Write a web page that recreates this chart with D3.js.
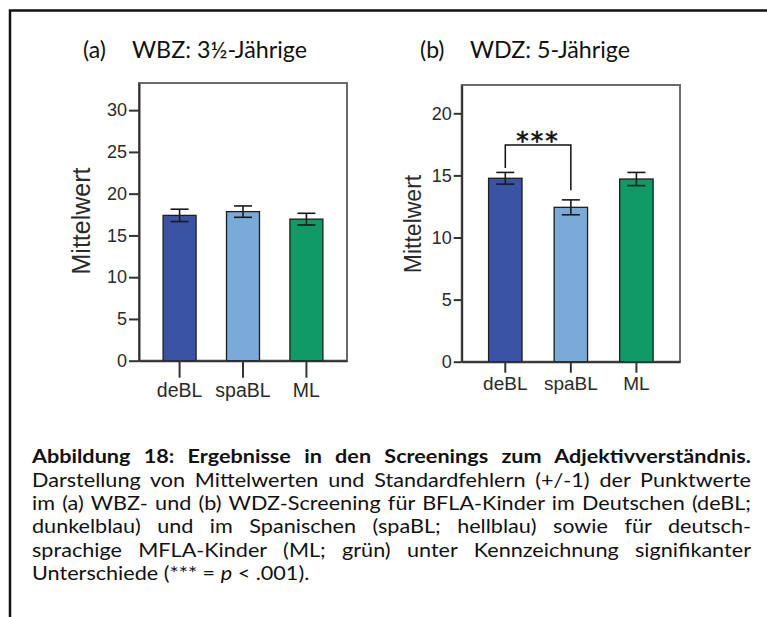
<!DOCTYPE html>
<html>
<head>
<meta charset="utf-8">
<script src="https://cdn.jsdelivr.net/npm/d3@7"></script>
<style>
  body { margin: 0; background: #fff; }
  svg { display: block; }
</style>
</head>
<body>
<div id="chart"></div>
<script>
// values
var groups = ["deBL", "spaBL", "ML"];
var meansA = [17.4, 17.85, 16.95];
var errA = [0.74, 0.68, 0.7];
var meansB = [14.77, 12.43, 14.71];
var errB = [0.47, 0.6, 0.53];
var ticksA = [0, 5, 10, 15, 20, 25, 30];
var ticksB = [0, 5, 10, 15, 20];
var sigPair = ["deBL", "spaBL"];
var sigLevels = [17.45, 15.6, 13.8];   // bracket top, left leg end, right leg end
var sigLabel = "***";

var captionBold = "Abbildung 18: Ergebnisse in den Screenings zum Adjektivverständnis.";
var captionLines = [
  "Darstellung von Mittelwerten und Standardfehlern (+/-1) der Punktwerte",
  "im (a) WBZ- und (b) WDZ-Screening für BFLA-Kinder im Deutschen (deBL;",
  "dunkelblau) und im Spanischen (spaBL; hellblau) sowie für deutsch-",
  "sprachige MFLA-Kinder (ML; grün) unter Kennzeichnung signifikanter"
];

var colors = d3.scaleOrdinal().domain(groups).range(["#3b53a5", "#7aaad8", "#0f9a66"]);

var svg = d3.select("#chart")
    .append("svg")
    .attr("width", 767)
    .attr("height", 617);

svg.append("rect")
    .attr("width", 767).attr("height", 617)
    .attr("fill", "#fff");

// outer frame of the figure
svg.append("path")
    .attr("d", "M10,625 L10,10.5 L780,10.5")
    .attr("fill", "none")
    .attr("stroke", "#111")
    .attr("stroke-width", 2.5);

var titleFont = "Lato, 'Open Sans', sans-serif";
var axisFont = "'Liberation Sans', Arial, sans-serif";

function title(x1, x2, x3, a, b) {
    svg.append("text")
        .attr("x", x1).attr("y", 58)
        .attr("font-family", titleFont)
        .attr("font-size", 23)
        .attr("fill", "#111")
        .text(a);
    svg.append("text")
        .attr("x", x2).attr("y", 58)
        .attr("font-family", titleFont)
        .attr("font-size", 23)
        .attr("fill", "#111")
        .attr("textLength", x3 - x2)
        .attr("lengthAdjust", "spacingAndGlyphs")
        .text(b);
}
title(83, 132, 307, "(a)", "WBZ: 3½-Jährige");
title(420, 470, 630, "(b)", "WDZ: 5-Jährige");

function panel(p) {
    var g = svg.append("g");

    var x = d3.scaleBand()
        .domain(groups)
        .range([p.left, p.right])
        .paddingInner(p.padIn)
        .paddingOuter(p.padOut);

    var y = d3.scaleLinear()
        .domain([0, p.ymax])
        .range([p.bottom, p.top]);

    // grey box round the plot
    g.append("rect")
        .attr("x", p.left).attr("y", p.top)
        .attr("width", p.right - p.left)
        .attr("height", p.bottom - p.top)
        .attr("fill", "none")
        .attr("stroke", "#6a6a6a")
        .attr("stroke-width", 2);

    var rows = groups.map(function(d, i) {
        return {name: d, mean: p.means[i], err: p.errs[i]};
    });

    g.selectAll("rect.bar")
        .data(rows)
        .enter()
        .append("rect")
        .attr("class", "bar")
        .attr("x", d => x(d.name))
        .attr("y", d => y(d.mean))
        .attr("width", x.bandwidth())
        .attr("height", d => y(0) - y(d.mean))
        .attr("fill", d => colors(d.name))
        .attr("stroke", "#1e1e1e")
        .attr("stroke-width", 1.3);

    var cx = d => x(d.name) + x.bandwidth() / 2;
    var cap = 9;
    var eb = g.selectAll("g.err")
        .data(rows)
        .enter()
        .append("g")
        .attr("class", "err")
        .attr("stroke", "#1a1a1a")
        .attr("stroke-width", 1.6);
    eb.append("line")
        .attr("x1", cx).attr("x2", cx)
        .attr("y1", d => y(d.mean - d.err))
        .attr("y2", d => y(d.mean + d.err));
    eb.append("line")
        .attr("x1", d => cx(d) - cap).attr("x2", d => cx(d) + cap)
        .attr("y1", d => y(d.mean + d.err))
        .attr("y2", d => y(d.mean + d.err));
    eb.append("line")
        .attr("x1", d => cx(d) - cap).attr("x2", d => cx(d) + cap)
        .attr("y1", d => y(d.mean - d.err))
        .attr("y2", d => y(d.mean - d.err));

    var ya = g.append("g")
        .attr("transform", `translate(${p.left},0)`)
        .call(d3.axisLeft(y).tickValues(p.ticks).tickSize(p.ytick).tickSizeOuter(0).tickPadding(2));
    var xa = g.append("g")
        .attr("transform", `translate(0,${p.bottom})`)
        .call(d3.axisBottom(x).tickSize(p.xtick).tickSizeOuter(0).tickPadding(p.xpad));

    [ya, xa].forEach(function(a) {
        a.selectAll("path, line").attr("stroke", "#333").attr("stroke-width", 2);
        a.selectAll("text")
            .attr("font-family", axisFont)
            .attr("fill", "#2a2a2a");
    });
    ya.selectAll("text").attr("font-size", p.yfont);
    xa.selectAll("text").attr("font-size", p.xfont);

    g.append("text")
        .attr("transform", "rotate(-90)")
        .attr("text-anchor", "middle")
        .attr("x", -p.labelY)
        .attr("y", p.labelX)
        .attr("font-family", axisFont)
        .attr("font-size", p.labelFont)
        .attr("fill", "#2a2a2a")
        .text("Mittelwert");

    return {x: x, y: y, g: g};
}

panel({
    left: 139, right: 347, top: 83, bottom: 360.7, ymax: 33.25,
    padIn: 0.48, padOut: 0.38,
    means: meansA, errs: errA, ticks: ticksA,
    ytick: 10, xtick: 17, xpad: 5,
    yfont: 18, xfont: 19.5, labelFont: 25, labelX: 90, labelY: 221
});

var pb = panel({
    left: 461.7, right: 680, top: 85, bottom: 361.7, ymax: 22.28,
    padIn: 0.49, padOut: 0.41,
    means: meansB, errs: errB, ticks: ticksB,
    ytick: 8, xtick: 11, xpad: 4,
    yfont: 18, xfont: 19, labelFont: 23, labelX: 421, labelY: 224
});

// significance bracket in panel (b)
var bx1 = pb.x(sigPair[0]) + pb.x.bandwidth() / 2;
var bx2 = pb.x(sigPair[1]) + pb.x.bandwidth() / 2;
pb.g.append("path")
    .attr("d", `M${bx1},${pb.y(sigLevels[1])} V${pb.y(sigLevels[0])} H${bx2} V${pb.y(sigLevels[2])}`)
    .attr("fill", "none")
    .attr("stroke", "#111")
    .attr("stroke-width", 1.5);
pb.g.append("text")
    .attr("x", (bx1 + bx2) / 2)
    .attr("y", pb.y(sigLevels[0]) + 4)
    .attr("text-anchor", "middle")
    .attr("font-family", "'DejaVu Sans', sans-serif")
    .attr("font-size", 25)
    .attr("letter-spacing", 2)
    .attr("fill", "#111")
    .attr("stroke", "#111")
    .attr("stroke-width", 0.6)
    .text(sigLabel);

// caption: glyphs widened a little, lines justified between x=32 and x=751
var capLeft = 32, capRight = 751, capTop = 463.3, lineH = 23.3, capSize = 19.3, capStretch = 1.12;

function justify(sel) {
    sel.each(function() {
        var w = this.getComputedTextLength();
        var gaps = (this.textContent.match(/ /g) || []).length;
        var room = (capRight - capLeft) / capStretch - w;
        if (gaps) d3.select(this).attr("word-spacing", room / gaps);
    });
}

function capLine(i) {
    return svg.append("text")
        .attr("transform", `translate(${capLeft},${capTop + lineH * i}) scale(${capStretch},1)`)
        .attr("font-family", titleFont)
        .attr("font-size", capSize)
        .attr("fill", "#111");
}

capLine(0)
    .attr("font-weight", "bold")
    .text(captionBold)
    .call(justify);

captionLines.forEach(function(t, i) {
    capLine(i + 1).text(t).call(justify);
});

var last = capLine(5);
last.append("tspan").text("Unterschiede (*** = ");
last.append("tspan").attr("font-style", "italic").text("p");
last.append("tspan").text(" < .001).");
</script>
</body>
</html>
